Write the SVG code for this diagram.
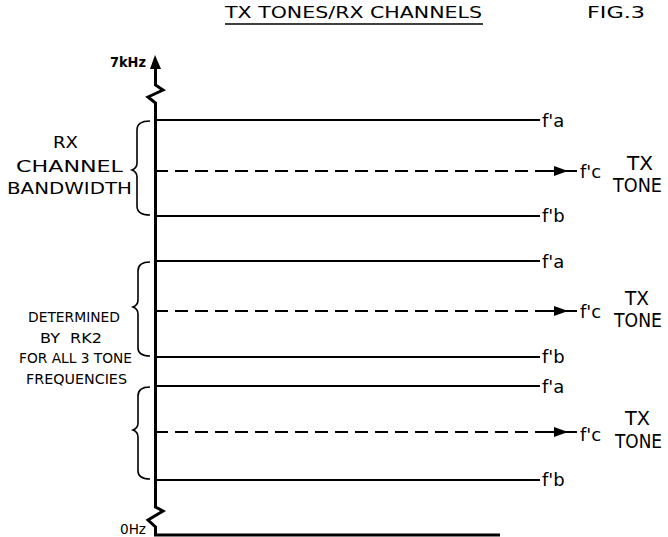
<svg xmlns="http://www.w3.org/2000/svg" width="668" height="537" viewBox="0 0 668 537">
<defs>
<style>
.t{font-family:"DejaVu Sans","Liberation Sans",sans-serif;fill:#000}
.ln{stroke:#000;stroke-width:2;fill:none}
.ax{stroke:#000;stroke-width:3;fill:none;stroke-linejoin:miter}
.ds{stroke:#000;stroke-width:2;fill:none;stroke-dasharray:13 7}
.br{stroke:#000;stroke-width:1.6;fill:none}
.f{font-size:18px}
.tx{font-size:19px}
.sm{font-size:14px}
.lg{font-size:16.5px}
</style>
</defs>
<rect width="668" height="537" fill="#fff"/>
<g id="title">
<text class="t" x="225" y="18" font-size="15.5" textLength="257" lengthAdjust="spacingAndGlyphs">TX TONES/RX CHANNELS</text>
<line x1="225" y1="24" x2="483" y2="24" stroke="#000" stroke-width="1.5"/>
<text class="t" x="587" y="18" font-size="15.5" textLength="58" lengthAdjust="spacingAndGlyphs">FIG.3</text>
</g>
<g id="axis">
<polygon points="155,55 150,69 161,69" fill="#000"/>
<path class="ax" d="M155.5,68 L155.5,85 L163,90 L148,97 L155.5,103 L155.5,507 L163,511 L148,520 L155.5,527 L155.5,535 L500,535"/>
<text class="t sm" x="110" y="67" font-weight="bold" textLength="36" lengthAdjust="spacingAndGlyphs">7kHz</text>
<text class="t sm" x="120" y="534" textLength="26" lengthAdjust="spacingAndGlyphs">0Hz</text>
</g>
<g id="connectors">
<line class="ln" x1="155" y1="120" x2="540" y2="120"/>
<line class="ds" x1="155" y1="171" x2="537" y2="171"/>
<line class="ln" x1="537" y1="171" x2="577" y2="171"/>
<polygon points="568,171 554,166 554,176" fill="#000"/>
<line class="ln" x1="155" y1="216" x2="540" y2="216"/>
<line class="ln" x1="155" y1="261" x2="540" y2="261"/>
<line class="ds" x1="155" y1="311" x2="537" y2="311"/>
<line class="ln" x1="537" y1="311" x2="577" y2="311"/>
<polygon points="568,311 554,306 554,316" fill="#000"/>
<line class="ln" x1="155" y1="357" x2="540" y2="357"/>
<line class="ln" x1="155" y1="386" x2="540" y2="386"/>
<line class="ds" x1="155" y1="432" x2="537" y2="432"/>
<line class="ln" x1="537" y1="432" x2="577" y2="432"/>
<polygon points="568,432 554,427 554,437" fill="#000"/>
<line class="ln" x1="155" y1="480" x2="540" y2="480"/>
</g>
<g id="band1">
<path class="br" d="M150,121 Q137,121 137,130 L137,163 Q137,168 132,170 Q137,172 137,177 L137,206 Q137,215 150,215"/>
<text class="t lg" x="53" y="148" textLength="25" lengthAdjust="spacingAndGlyphs">RX</text>
<text class="t lg" x="16" y="172" textLength="107" lengthAdjust="spacingAndGlyphs">CHANNEL</text>
<text class="t lg" x="7" y="194" textLength="125" lengthAdjust="spacingAndGlyphs">BANDWIDTH</text>
<text class="t f" x="542" y="127">f'a</text>
<text class="t f" x="580" y="178">f'c</text>
<text class="t tx" x="627" y="170" textLength="26" lengthAdjust="spacingAndGlyphs">TX</text>
<text class="t tx" x="613" y="192" textLength="49" lengthAdjust="spacingAndGlyphs">TONE</text>
<text class="t f" x="542" y="222">f'b</text>
</g>
<g id="band2">
<path class="br" d="M150,262 Q138,262 138,271 L138,300 Q138,305 133,307 Q138,309 138,314 L138,348 Q138,356 150,356"/>
<text class="t sm" x="28" y="322" textLength="92" lengthAdjust="spacingAndGlyphs">DETERMINED</text>
<text class="t sm" x="40" y="343" textLength="62" lengthAdjust="spacingAndGlyphs" xml:space="preserve">BY  RK2</text>
<text class="t sm" x="19" y="363" textLength="113" lengthAdjust="spacingAndGlyphs">FOR ALL 3 TONE</text>
<text class="t sm" x="26" y="384" textLength="101" lengthAdjust="spacingAndGlyphs">FREQUENCIES</text>
<text class="t f" x="542" y="268">f'a</text>
<text class="t f" x="580" y="318">f'c</text>
<text class="t tx" x="625" y="305" textLength="24" lengthAdjust="spacingAndGlyphs">TX</text>
<text class="t tx" x="614" y="327" textLength="48" lengthAdjust="spacingAndGlyphs">TONE</text>
<text class="t f" x="542" y="363">f'b</text>
</g>
<g id="band3">
<path class="br" d="M150,387 Q138,387 138,396 L138,423 Q138,428 133,430 Q138,432 138,437 L138,471 Q138,479 150,479"/>
<text class="t f" x="542" y="393">f'a</text>
<text class="t f" x="580" y="441">f'c</text>
<text class="t tx" x="625" y="425" textLength="25" lengthAdjust="spacingAndGlyphs">TX</text>
<text class="t tx" x="615" y="448" textLength="47" lengthAdjust="spacingAndGlyphs">TONE</text>
<text class="t f" x="542" y="486">f'b</text>
</g>
</svg>
